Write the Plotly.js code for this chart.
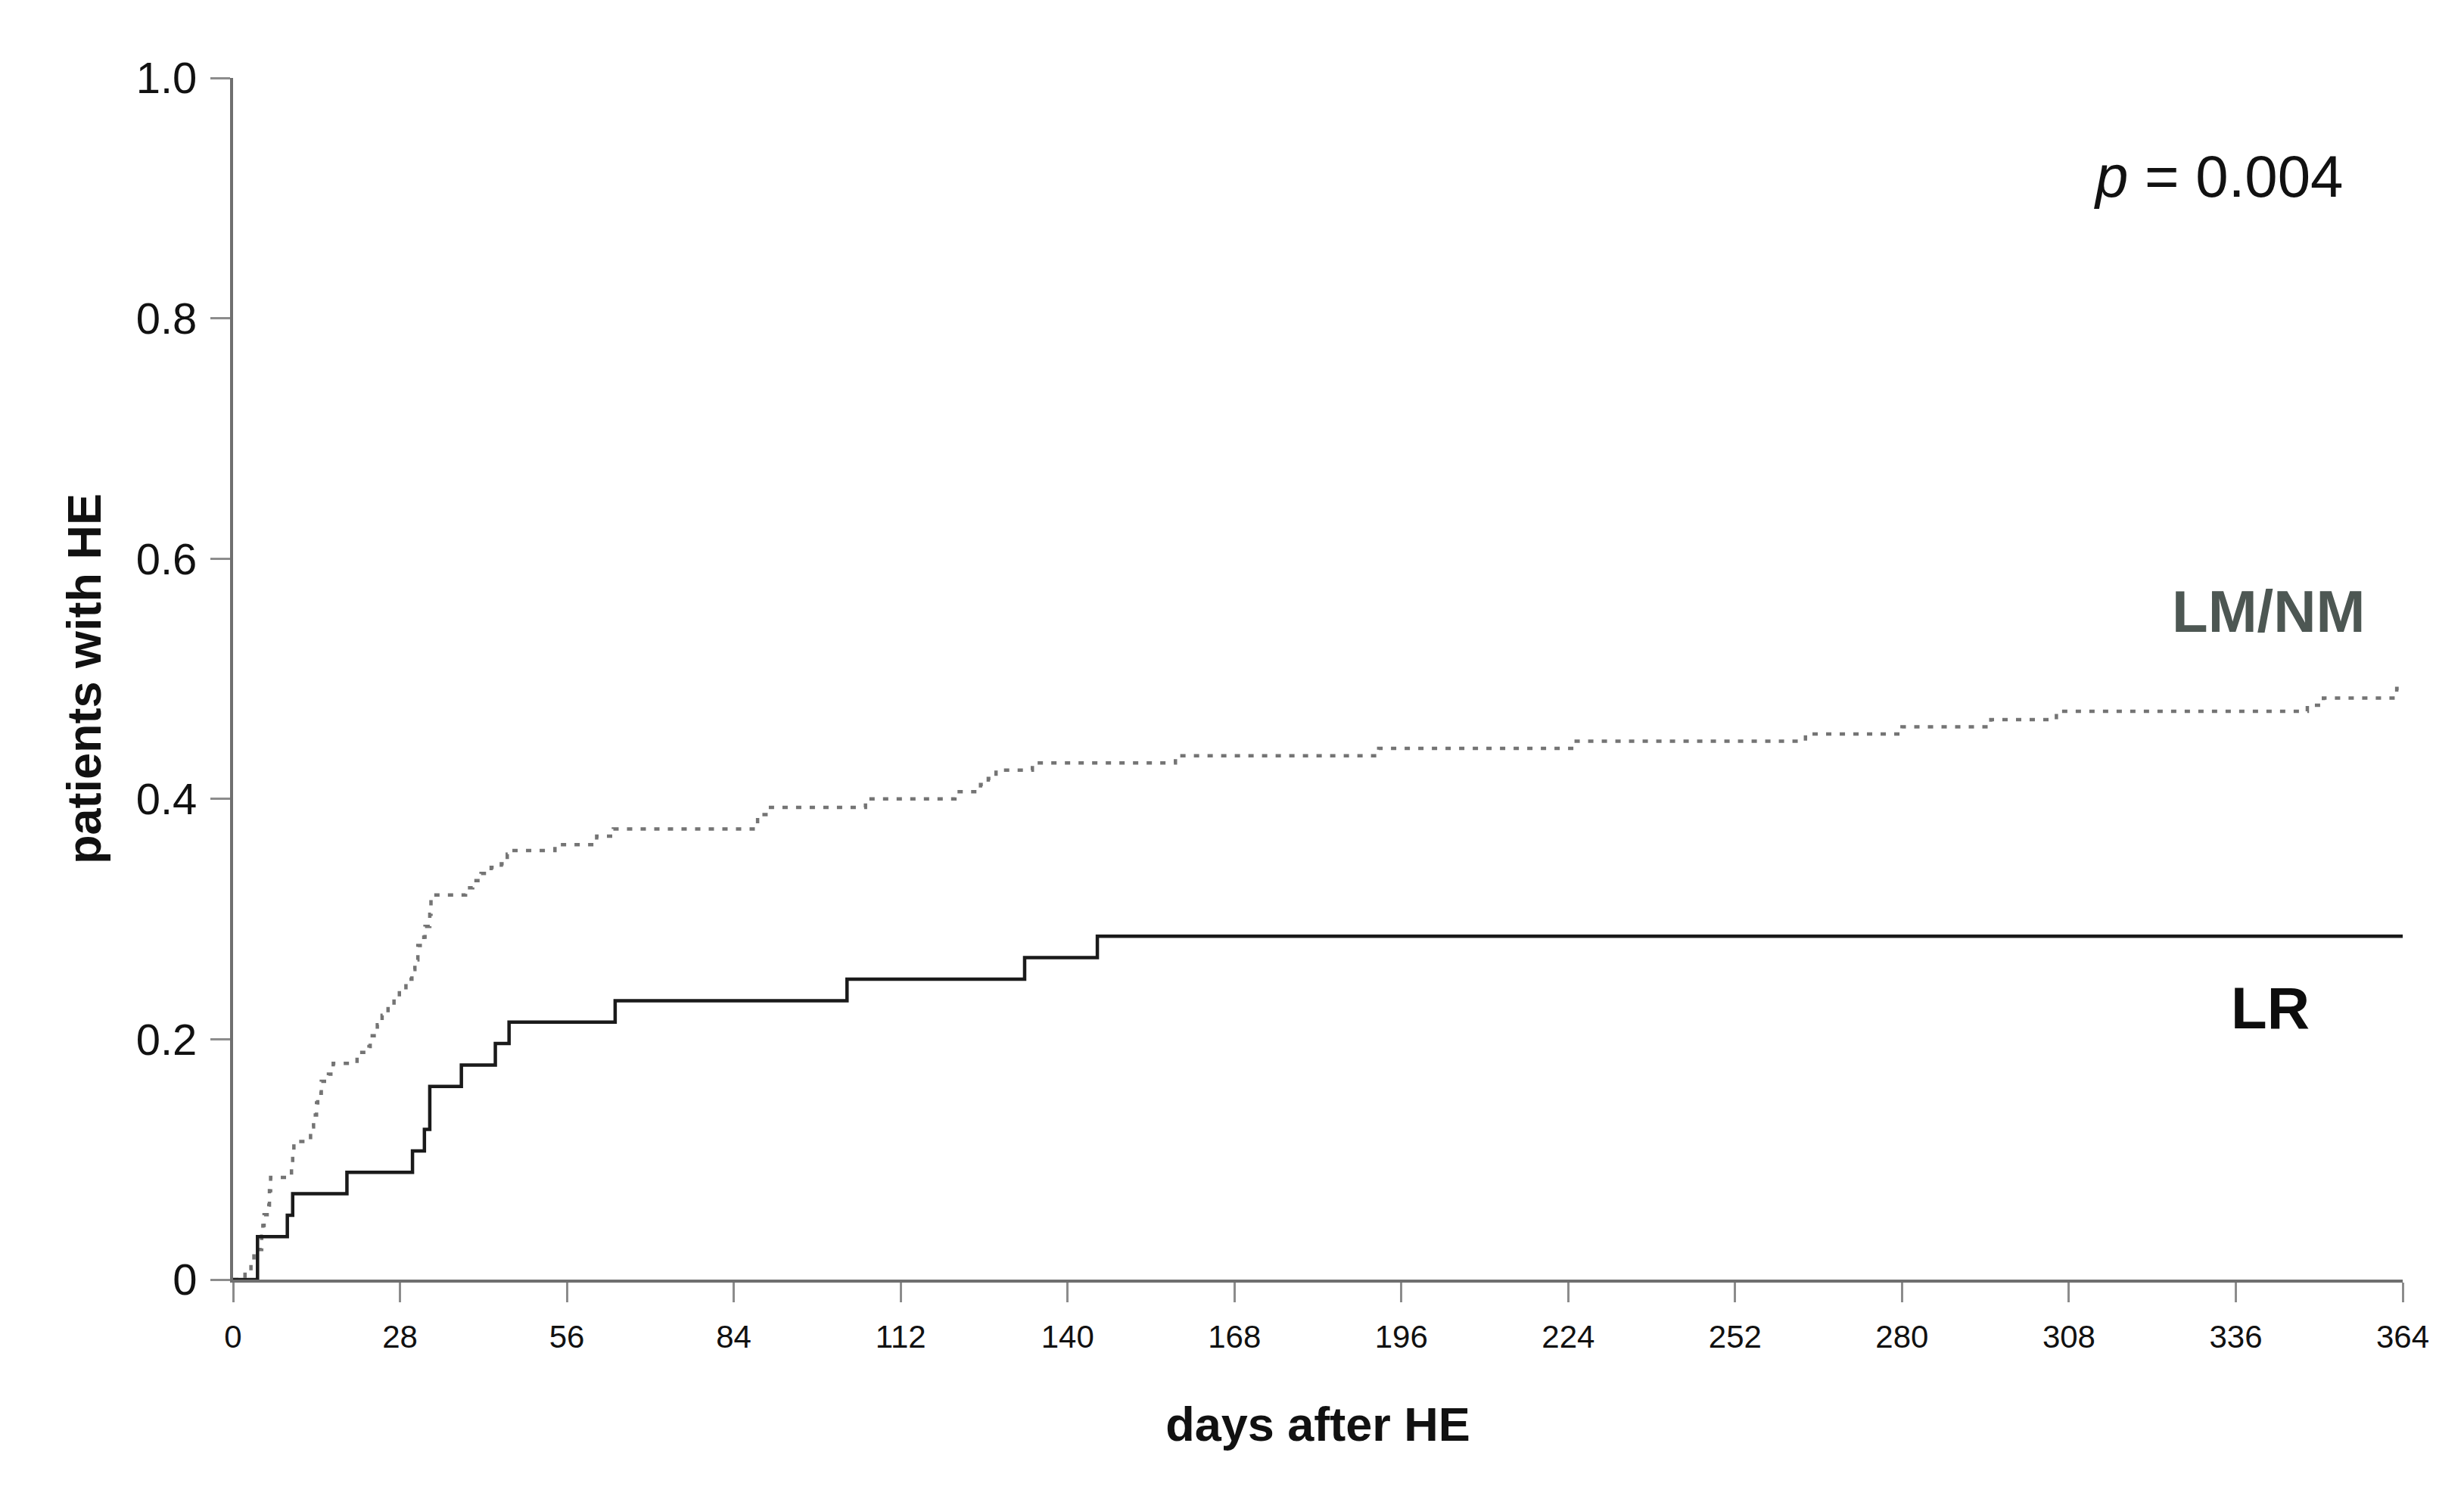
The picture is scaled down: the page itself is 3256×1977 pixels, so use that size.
<!DOCTYPE html>
<html>
<head>
<meta charset="utf-8">
<script src="https://cdn.plot.ly/plotly-3.0.1.min.js"></script>
<style>html,body{margin:0;padding:0;background:#fff;}#chart{width:3256px;height:1977px;}</style>
</head>
<body>
<div id="chart"></div>
<script>
// Kaplan-Meier style cumulative incidence
const lrDays   = [0, 4.1, 9.1, 10, 19.1, 30.1, 32.1, 33, 38.3, 44, 46.3, 64.1, 103, 132.8, 145, 364];
const lrValues = [0, 0.0357, 0.0536, 0.0714, 0.0893, 0.1071, 0.125, 0.1607, 0.1786, 0.1964, 0.2143, 0.2321, 0.25, 0.2679, 0.2857, 0.2857];

const lmDays   = [0, 2, 3, 3.5, 4.8, 5, 5.2, 6, 6.1, 6.3, 9.8, 10, 10.2, 13, 13.5, 14, 14.2, 14.8, 16, 16.8,
                  20.8, 22.8, 23, 24.2, 25, 26, 27, 27.9, 29, 30, 30.5, 31, 32, 32.2, 33, 33.2, 39, 40.2, 41.6, 43.3,
                  45, 46, 46.4, 54, 61, 63.8, 88, 89.8, 106.1, 121.1, 125.4, 126.7, 128, 134.1, 158.1, 192.2, 225,
                  263.8, 280, 294.9, 305.9, 348, 350.7, 363, 364];
const lmValues = [0, 0.007, 0.0146, 0.025, 0.036, 0.045, 0.054, 0.062, 0.074, 0.085, 0.092, 0.104, 0.115, 0.127, 0.137, 0.147, 0.155, 0.165, 0.171, 0.180,
                  0.189, 0.194, 0.203, 0.212, 0.220, 0.228, 0.234, 0.241, 0.250, 0.258, 0.266, 0.278, 0.285, 0.294, 0.304, 0.320, 0.326, 0.332, 0.338, 0.343,
                  0.346, 0.354, 0.357, 0.362, 0.369, 0.375, 0.387, 0.393, 0.400, 0.406, 0.412, 0.417, 0.424, 0.430, 0.436, 0.442, 0.448,
                  0.454, 0.460, 0.466, 0.473, 0.478, 0.484, 0.492, 0.492];

const xTickVals = [0, 28, 56, 84, 112, 140, 168, 196, 224, 252, 280, 308, 336, 364];
const yTickVals = [0, 0.2, 0.4, 0.6, 0.8, 1.0];
const yTickText = ['0', '0.2', '0.4', '0.6', '0.8', '1.0'];

const groupNames = ['LM/NM', 'LR'];
const pText = '<i>p</i> = 0.004';

const FONT = 'Liberation Sans, Arial, sans-serif';

const traces = [
  {
    x: lmDays, y: lmValues, type: 'scatter', mode: 'lines', name: groupNames[0],
    line: {shape: 'hv', color: '#747474', width: 4.5, dash: '7px,11px'}
  },
  {
    x: lrDays, y: lrValues, type: 'scatter', mode: 'lines', name: groupNames[1],
    line: {shape: 'hv', color: '#1a1a1a', width: 4.5}
  }
];

const layout = {
  width: 3256, height: 1977,
  paper_bgcolor: '#ffffff', plot_bgcolor: '#ffffff',
  showlegend: false,
  margin: {l: 308, r: 81, t: 103, b: 286, pad: 0},
  font: {family: FONT, color: '#000'},
  xaxis: {
    range: [0, 364], tickvals: xTickVals, ticktext: xTickVals.map(String),
    showgrid: false, zeroline: false,
    showline: true, linecolor: '#6f6f6f', linewidth: 4,
    ticks: 'outside', ticklen: 26, tickwidth: 3, tickcolor: '#8c8c8c',
    tickfont: {family: FONT, size: 42, color: '#111'},
    ticklabelstandoff: 10,
    title: {text: '<b>days after HE</b>', font: {family: FONT, size: 63, color: '#111'}, standoff: 71},
    automargin: false
  },
  yaxis: {
    range: [0, 1.0], tickvals: yTickVals, ticktext: yTickText,
    showgrid: false, zeroline: false,
    showline: true, linecolor: '#6f6f6f', linewidth: 4,
    ticks: 'outside', ticklen: 26, tickwidth: 3, tickcolor: '#8c8c8c',
    tickfont: {family: FONT, size: 58, color: '#111'},
    ticklabelstandoff: 6,
    title: {text: '<b>patients with HE</b>', font: {family: FONT, size: 63, color: '#111'}, standoff: 27},
    automargin: false
  },
  annotations: [
    {x: 333.1, y: 0.918, xref: 'x', yref: 'y', text: pText, showarrow: false,
     font: {family: FONT, size: 78, color: '#111'}, xanchor: 'center', yanchor: 'middle'},
    {x: 341.5, y: 0.556, xref: 'x', yref: 'y', text: '<b>' + groupNames[0] + '</b>', showarrow: false,
     font: {family: FONT, size: 78, color: '#4d5753'}, xanchor: 'center', yanchor: 'middle'},
    {x: 341.8, y: 0.226, xref: 'x', yref: 'y', text: '<b>' + groupNames[1] + '</b>', showarrow: false,
     font: {family: FONT, size: 78, color: '#0d0d0d'}, xanchor: 'center', yanchor: 'middle'}
  ]
};

Plotly.newPlot('chart', traces, layout, {staticPlot: true, displayModeBar: false});
</script>
</body>
</html>
